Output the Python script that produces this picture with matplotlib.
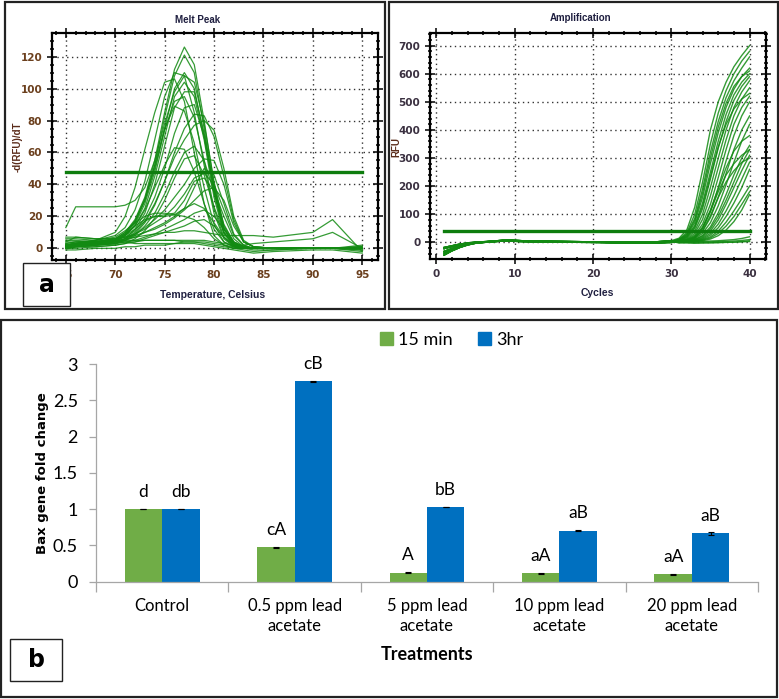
import numpy as np
import matplotlib
matplotlib.use('Agg')
import matplotlib.pyplot as plt
from matplotlib.patches import Rectangle, Patch
from matplotlib.ticker import MultipleLocator

W, H = 779, 699

# ---- melt peak curves (temperature grid + -d(RFU)/dT values)
melt_T = [65, 66, 68, 70, 71, 72, 73, 74, 75, 76, 77, 78, 79, 80, 81, 82, 83, 84, 86, 90, 92, 95]
melt_curves = [
    [2, 3, 4, 6, 10, 18, 32, 55, 85, 112, 126, 115, 80, 40, 12, 3, 1, 0, 0, 0, 0, -1],
    [1, 2, 3, 5, 9, 16, 30, 52, 82, 108, 121, 110, 75, 36, 10, 2, 0, 0, 0, 0, 0, -1],
    [3, 4, 5, 8, 13, 24, 42, 68, 95, 110, 108, 85, 52, 22, 6, 1, 0, 0, 0, 0, 0, 0],
    [0, 1, 2, 4, 8, 15, 28, 48, 75, 100, 110, 100, 70, 35, 10, 2, 0, 0, 0, 0, 0, 0],
    [2, 3, 5, 10, 20, 38, 62, 85, 104, 106, 92, 60, 28, 8, 2, 0, 0, 0, 0, 0, 0, 0],
    [1, 2, 3, 5, 8, 14, 25, 45, 70, 95, 104, 95, 68, 32, 9, 2, 0, 0, 0, 0, 0, 0],
    [0, 1, 2, 3, 6, 12, 22, 40, 64, 88, 98, 98, 72, 38, 12, 3, 1, 0, 0, 0, 0, 0],
    [2, 3, 4, 6, 10, 17, 30, 50, 74, 92, 95, 82, 55, 25, 7, 1, 0, 0, 0, 0, 0, 0],
    [1, 2, 3, 5, 9, 17, 31, 52, 75, 89, 86, 66, 38, 15, 4, 1, 0, 0, 0, 0, 0, 0],
    [0, 1, 2, 3, 5, 9, 16, 27, 42, 60, 75, 84, 83, 70, 45, 18, 4, 1, 0, 0, 0, 0],
    [1, 2, 3, 4, 6, 10, 17, 28, 42, 57, 68, 77, 80, 74, 50, 20, 5, 1, 0, 0, 0, 0],
    [2, 3, 4, 5, 8, 14, 24, 38, 52, 63, 62, 48, 28, 12, 4, 1, 0, 0, 0, 0, 0, 0],
    [0, 1, 2, 3, 5, 8, 14, 22, 34, 48, 60, 64, 55, 35, 15, 4, 1, 0, 0, 0, 0, 0],
    [1, 2, 3, 4, 6, 9, 13, 18, 24, 32, 40, 50, 56, 55, 40, 16, 4, 1, 0, 0, 0, 0],
    [1, 2, 3, 5, 8, 12, 17, 20, 21, 22, 30, 42, 44, 36, 20, 6, 1, 0, 0, 0, 0, 0],
    [2, 3, 4, 6, 9, 14, 18, 20, 20, 21, 25, 38, 50, 46, 28, 9, 2, 0, 0, 0, 0, 0],
    [1, 2, 3, 4, 5, 7, 10, 13, 16, 20, 25, 28, 25, 16, 7, 2, 0, 0, 0, 0, 0, 0],
    [2, 3, 5, 7, 11, 16, 20, 22, 22, 21, 20, 18, 13, 6, 2, 0, 0, 0, 0, 0, 0, 0],
    [0, 1, 1, 2, 3, 4, 6, 8, 10, 12, 14, 17, 18, 14, 7, 2, 0, 0, 0, 0, 0, 0],
    [13, 26, 26, 26, 27, 30, 38, 55, 78, 98, 108, 104, 78, 42, 14, 4, 1, 0, 0, 0, 0, 0],
    [3, 4, 4, 5, 6, 7, 8, 9, 10, 10, 11, 11, 10, 9, 8, 8, 8, 8, 7, 10, 18, -2],
    [2, 3, 3, 3, 4, 4, 5, 5, 5, 5, 5, 5, 5, 4, 3, 2, 2, 3, 4, 6, 10, 0],
    [5, 5, 4, 4, 4, 3, 3, 3, 3, 3, 4, 4, 3, 2, 1, 0, -1, -2, -1, 0, 0, 1],
    [-1, -1, 0, 0, 1, 1, 2, 2, 2, 3, 3, 3, 2, 1, 0, -1, -2, -3, -2, -1, -1, -3],
    [6, 6, 5, 5, 5, 5, 5, 5, 5, 5, 4, 4, 4, 3, 2, 1, 0, 0, 0, 0, 0, 2],
    [4, 7, 6, 6, 7, 9, 12, 16, 20, 26, 34, 44, 47, 40, 24, 8, 2, 0, 0, 0, 0, 0],
    [7, 7, 6, 6, 7, 8, 10, 12, 15, 19, 24, 30, 36, 38, 30, 14, 4, 1, 0, 0, 0, 1],
    [0, 0, 1, 2, 3, 6, 11, 19, 30, 44, 56, 58, 46, 26, 10, 3, 0, -1, -1, 0, 0, -2],
    [4, 4, 4, 5, 7, 11, 19, 32, 50, 72, 88, 90, 70, 38, 13, 3, 0, 0, 0, 0, 0, 1],
    [1, 2, 2, 3, 4, 5, 7, 9, 12, 15, 18, 22, 24, 20, 12, 4, 1, 0, 0, 0, 0, 0],
]
melt_threshold = 48

# ---- amplification curves: shared early baselines + late growth per well
amp_early_cycles = [1, 2, 3, 4, 5, 7, 9, 11, 15, 20, 25, 28, 30]
amp_baselines = [
    [-45, -30, -18, -9, -3, 3, 8, 5, 3, 2, 0, 2, 6],
    [-32, -22, -13, -6, -2, 2, 6, 4, 2, 1, -1, 0, 3],
    [-22, -15, -9, -4, 0, 3, 5, 3, 1, 0, -2, -1, 1],
    [-38, -26, -15, -7, -1, 4, 9, 6, 4, 2, 1, 1, 4],
    [-18, -12, -6, -2, 1, 4, 7, 4, 2, 1, -2, -2, 0],
]
amp_late_cycles = [31, 32, 33, 34, 35, 36, 37, 38, 39, 40]
amp_growth = [
    [15, 45, 125, 257, 400, 500, 570, 625, 665, 700],
    [12, 35, 100, 215, 350, 460, 540, 600, 645, 680],
    [10, 30, 85, 190, 320, 430, 515, 575, 620, 660],
    [8, 25, 70, 160, 280, 390, 480, 545, 590, 620],
    [8, 22, 60, 140, 250, 360, 455, 525, 570, 600],
    [6, 18, 50, 120, 225, 335, 430, 505, 555, 590],
    [6, 15, 40, 100, 195, 300, 400, 480, 535, 575],
    [5, 12, 32, 82, 165, 265, 365, 450, 510, 550],
    [5, 10, 26, 65, 135, 230, 330, 420, 480, 520],
    [4, 8, 20, 50, 110, 195, 290, 380, 450, 500],
    [3, 7, 16, 40, 88, 160, 245, 330, 400, 450],
    [3, 6, 13, 32, 70, 130, 205, 285, 360, 420],
    [3, 5, 10, 25, 55, 105, 170, 240, 300, 345],
    [2, 5, 10, 22, 48, 92, 150, 215, 280, 330],
    [2, 4, 8, 18, 40, 80, 135, 195, 255, 310],
    [2, 4, 7, 15, 32, 65, 112, 165, 225, 285],
    [1, 3, 6, 12, 26, 52, 92, 140, 195, 260],
    [1, 3, 5, 10, 20, 40, 72, 112, 155, 200],
    [1, 2, 4, 8, 16, 32, 58, 92, 135, 180],
    [1, 2, 3, 6, 12, 24, 44, 74, 115, 170],
    [2, 6, 18, 50, 110, 180, 240, 280, 310, 330],
    [2, 5, 15, 42, 95, 160, 215, 255, 285, 300],
    [10, 28, 78, 175, 300, 410, 495, 555, 590, 610],
    [7, 20, 55, 130, 235, 340, 420, 475, 510, 530],
    [4, 9, 22, 55, 115, 190, 265, 325, 360, 380],
    [1, 2, 3, 4, 5, 6, 8, 10, 14, 20],
    [0, 1, 1, 2, 2, 3, 4, 5, 7, 10],
    [0, 0, -1, -1, 0, 0, 1, 1, 2, 3],
    [-2, -2, -3, -2, -2, -1, 0, 1, 3, 6],
]
amp_threshold = 40

# ---- bar chart
treatments = ['Control', '0.5 ppm lead\nacetate', '5 ppm lead\nacetate',
              '10 ppm lead\nacetate', '20 ppm lead\nacetate']
fold_15min = [1.0, 0.474, 0.124, 0.115, 0.10]
fold_3hr = [1.0, 2.76, 1.03, 0.70, 0.667]
err_15min = [0.005, 0.005, 0.004, 0.003, 0.003]
err_3hr = [0.005, 0.006, 0.005, 0.006, 0.02]
letters_15min = ['d', 'cA', 'A', 'aA', 'aA']
letters_3hr = ['db', 'cB', 'bB', 'aB', 'aB']

GREEN_LINE = '#128a12'
GREEN_BAR = '#70AD47'
BLUE_BAR = '#0070C0'
narrow = ['Lato', 'DejaVu Sans']


def box(x, y, w, h):
    # pixel box -> figure fraction rect
    return [x / W, 1 - (y + h) / H, w / W, h / H]


def fx(x):
    return x / W


def fy(y):
    return 1 - y / H


fig = plt.figure(figsize=(W / 100, H / 100), dpi=100)


def style_qpcr(ax, xmaj, xmin, ymaj, ymin, tick_color):
    ax.xaxis.set_major_locator(MultipleLocator(xmaj))
    ax.xaxis.set_minor_locator(MultipleLocator(xmin))
    ax.yaxis.set_major_locator(MultipleLocator(ymaj))
    ax.yaxis.set_minor_locator(MultipleLocator(ymin))
    ax.tick_params(which='both', direction='inout', top=True, right=True,
                   labelsize=7.5, labelcolor=tick_color, width=1.1, color='black')
    ax.tick_params(which='major', length=7)
    ax.tick_params(which='minor', length=3.5)
    for lab in ax.get_xticklabels() + ax.get_yticklabels():
        lab.set_fontweight('bold')
    ax.grid(True, which='major', color='#333333', linestyle=(0, (1, 2.5)), lw=1.0)
    for s in ax.spines.values():
        s.set_linewidth(1.6)
        s.set_edgecolor('black')


# ---- melt peak
ax1 = fig.add_axes(box(52, 33, 326, 227))
for c in melt_curves:
    ax1.plot(melt_T, c, color=GREEN_LINE, lw=0.9, alpha=0.85)
ax1.plot([65, 95], [melt_threshold, melt_threshold], color='#0e7d0e', lw=2.4)
ax1.set_xlim(63.6, 96.6)
ax1.set_ylim(-7.3, 134.8)
style_qpcr(ax1, 5, 1, 20, 5, '#6b3f1d')
fig.text(fx(198), fy(20), 'Melt Peak', ha='center', va='center', fontsize=7,
         fontweight='bold', color='#1f1f40', family='Liberation Sans')
fig.text(fx(18), fy(147), '-d(RFU)/dT', ha='center', va='center', fontsize=7,
         rotation=90, fontweight='bold', color='#5b2c1a', family='Liberation Sans')
fig.text(fx(213), fy(295), 'Temperature, Celsius', ha='center', va='center',
         fontsize=7.5, fontweight='bold', color='#1f1f40', family='Liberation Sans')

# ---- amplification
ax2 = fig.add_axes(box(430, 33, 336, 226))
for i, g in enumerate(amp_growth):
    base = amp_baselines[i % len(amp_baselines)]
    ax2.plot(amp_early_cycles + amp_late_cycles, base + g, color=GREEN_LINE,
             lw=1.0, alpha=0.85)
ax2.plot([1, 40], [amp_threshold, amp_threshold], color='#0e7d0e', lw=2.4)
ax2.set_xlim(-0.8, 42.1)
ax2.set_ylim(-59, 745)
style_qpcr(ax2, 10, 2, 100, 20, '#3a3040')
fig.text(fx(581), fy(18), 'Amplification', ha='center', va='center', fontsize=7,
         fontweight='bold', color='#1f1f40', family='Liberation Sans')
fig.text(fx(396), fy(147), 'RFU', ha='center', va='center', fontsize=7,
         rotation=90, fontweight='bold', color='#5b2c1a', family='Liberation Sans')
fig.text(fx(597), fy(293), 'Cycles', ha='center', va='center', fontsize=7.5,
         fontweight='bold', color='#1f1f40', family='Liberation Sans')

# ---- bar chart
ax3 = fig.add_axes(box(96, 364, 662, 217.7))
x = np.arange(len(treatments))
bw = 0.283
ax3.bar(x - bw / 2, fold_15min, bw, color=GREEN_BAR, yerr=err_15min,
        error_kw=dict(ecolor='black', capsize=2.5, elinewidth=0.8, capthick=0.8))
ax3.bar(x + bw / 2, fold_3hr, bw, color=BLUE_BAR, yerr=err_3hr,
        error_kw=dict(ecolor='black', capsize=2.5, elinewidth=0.8, capthick=0.8))
for xi, v, t in zip(x, fold_15min, letters_15min):
    ax3.text(xi - bw / 2, v + 0.24, t, ha='center', va='center', fontsize=12.5,
             family=narrow)
for xi, v, t in zip(x, fold_3hr, letters_3hr):
    ax3.text(xi + bw / 2, v + 0.24, t, ha='center', va='center', fontsize=12.5,
             family=narrow)
ax3.set_xlim(-0.5, 4.5)
ax3.set_ylim(0, 3)
ax3.set_yticks([0, 0.5, 1, 1.5, 2, 2.5, 3])
ax3.set_yticklabels(['0', '0.5', '1', '1.5', '2', '2.5', '3'], family=narrow)
ax3.set_xticks(x)
ax3.set_xticklabels(treatments, family=narrow, linespacing=1.3)
ax3.set_xticks(np.arange(-0.5, 5, 1), minor=True)
ax3.tick_params(axis='x', which='major', length=0, labelsize=12, pad=12)
ax3.tick_params(axis='x', which='minor', length=7, color='#a6a6a6', width=0.9)
ax3.tick_params(axis='y', length=5, color='#a6a6a6', width=0.9, labelsize=13, pad=8)
for s in ['top', 'right']:
    ax3.spines[s].set_visible(False)
for s in ['left', 'bottom']:
    ax3.spines[s].set_color('#a6a6a6')
    ax3.spines[s].set_linewidth(0.9)
ax3.set_ylabel('Bax gene fold change', fontsize=9.5, fontweight='bold',
               family='DejaVu Sans', labelpad=3)
fig.text(fx(427), fy(654), 'Treatments', ha='center', va='center', fontsize=13,
         fontweight='bold', family=narrow)
handles = [Patch(color=GREEN_BAR, label='15 min'), Patch(color=BLUE_BAR, label='3hr')]
fig.legend(handles=handles, loc='center', bbox_to_anchor=(fx(452), fy(340)),
           ncol=2, frameon=False, handlelength=0.7, handleheight=0.7,
           handletextpad=0.3, columnspacing=1.4, prop={'family': narrow, 'size': 13})

# panel frames and the a / b label boxes
frames = [(5, 2, 385, 309), (389, 2, 778, 309), (1, 320, 777, 697)]
for (x0, y0, x1, y1) in frames:
    fig.add_artist(Rectangle((fx(x0), fy(y1)), fx(x1) - fx(x0), fy(y0) - fy(y1),
                             transform=fig.transFigure, fill=False,
                             edgecolor='#222222', lw=1.6))
for (x0, y0, x1, y1, lab) in [(23, 263, 70, 306, 'a'), (10, 639, 62, 681, 'b')]:
    fig.add_artist(Rectangle((fx(x0), fy(y1)), fx(x1) - fx(x0), fy(y0) - fy(y1),
                             transform=fig.transFigure, facecolor='white',
                             edgecolor='#222222', lw=1.0))
    fig.text(fx((x0 + x1) / 2), fy((y0 + y1) / 2), lab, ha='center', va='center',
             fontsize=17, fontweight='bold', family='DejaVu Sans')

fig.savefig('out.png', dpi=100)
